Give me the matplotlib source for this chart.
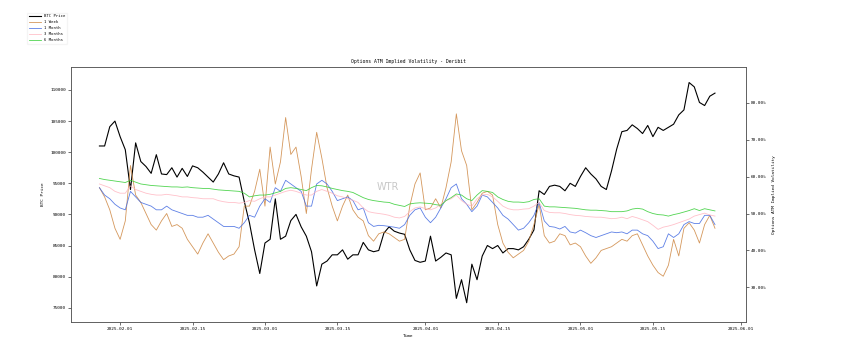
import matplotlib
matplotlib.use("Agg")
import matplotlib.pyplot as plt
import matplotlib.dates as mdates
import matplotlib.ticker as mticker
import pandas as pd

plt.rcParams['font.family'] = ['DejaVu Sans Mono', 'DejaVu Sans']

# daily samples, 2025-01-28 .. 2025-05-27
dates = pd.date_range("2025-01-28", periods=120, freq="D")

btc_price = [
    101000, 101000, 104100, 105000, 102500, 100400, 94000, 101500, 98500, 97700,
    96600, 99600, 96500, 96400, 97500, 96000, 97400, 96100, 97800, 97500,
    96800, 96000, 95200, 96500, 98300,
    96500, 96200, 96000, 92100, 88650, 84300, 80500, 85400, 86000, 92500,
    86000, 86500, 89000, 90000, 88000, 86500, 84000, 78500, 82000, 82500,
    83500, 83500, 84300, 82800, 83500,
    83500, 85500, 84300, 84000, 84200, 87000, 88000, 87300, 87000, 86800,
    84300, 82600, 82300, 82500, 86500, 82500, 83100, 83800, 83500, 76500,
    79500, 75800, 82000, 79500, 83300, 85000, 84500,
    85000, 83800, 84500, 84500, 84300, 84800, 86000, 87500, 93800, 93200,
    94500, 94700, 94500, 93800, 95000, 94500, 96100, 97500, 96500, 95700,
    94500, 94000, 97000, 100500, 103300,
    103500, 104400, 103800, 103000, 104300, 102500, 104000, 103500, 104000, 104500,
    106000, 106800, 111200, 110500, 108000, 107500, 109000, 109500,
]

iv_1w = [
    57, 54.5, 51, 46, 43, 48, 63, 55, 53, 50, 47, 45.5, 48, 50, 46.5, 47, 46, 43,
    41, 39, 42, 44.5, 42, 39.5, 37.5,
    38.5, 39, 41, 52, 52, 56, 62, 52, 68, 58, 64, 76, 66, 68, 60, 50, 62, 72, 65,
    57, 52, 48, 52, 55, 51,
    49, 48, 44, 42.5, 44.5, 45, 44.5, 43.5, 42.5, 43, 52, 58, 61, 51, 51.5, 54,
    51.5, 57, 64, 77, 67, 63, 51, 53, 55.5, 56, 55,
    47, 42, 39.5, 38, 39, 40, 42.5, 47, 52.5, 44, 42, 42.5, 44.5, 44, 41.5, 42,
    41, 38.5, 36.5, 38, 40, 40.5, 41, 42, 43,
    42.5, 44, 44.5, 41.5, 38.5, 36, 34, 33, 36, 43, 38.5, 46, 47.5, 45.5, 42, 47,
    49.5, 46,
]

iv_1m = [
    57, 55, 54, 52.5, 51.5, 51, 56, 54.5, 53, 52.5, 52, 51, 51, 52, 51, 50.5, 50,
    49.5, 49.5, 49, 49, 49.5, 48.5, 47.5, 46.5,
    46.5, 46.5, 46, 47.5, 49.5, 49, 52, 54, 53, 57, 56, 59, 58, 57, 56, 52, 52,
    58, 59, 58, 56, 53.5, 54, 54.5, 53.5,
    51, 51.5, 47.5, 46.5, 46.8, 46.7, 46.5, 46.3, 46, 47, 49.5, 51, 51.5, 49,
    47.5, 49, 51.5, 54, 57, 58, 54, 52.5, 50.5, 52, 55, 54.5, 53,
    51.5, 49.5, 48.5, 47, 45.5, 46, 47.5, 49.5, 53, 48, 46.5, 46.3, 45.8, 46.5,
    45, 44.7, 45.5, 44.8, 44, 43.5, 44, 44.5, 45, 44.8, 45,
    44.5, 45.5, 45.5, 44.5, 44, 42.5, 40.5, 41, 44.5, 43.5, 44.5, 47, 47.8, 47.3,
    47.3, 49.5, 49.5, 47,
]

iv_3m = [
    58, 57.5, 57, 56, 55.5, 55.5, 57.5, 56.5, 56, 55.5, 55.2, 55, 55, 55.2, 55,
    54.8, 54.5, 54.5, 54.3, 54.2, 54, 54, 54, 53.5, 53.2,
    53, 53, 52.8, 53, 53.5, 53.3, 54, 54.5, 54.5, 55, 55.5, 56, 56.3, 56, 55.5,
    55, 55, 56, 56.5, 56, 55.5, 54.8, 54.5, 54, 53.6,
    53, 51.5, 50.5, 50.2, 50, 49.8, 49.5, 49, 48.8, 49.2, 50.5, 51.5, 51.8, 51.3,
    51, 51.5, 52.5, 53.5, 54, 55, 53.5, 52.5, 52, 54, 55, 55.2, 54.5,
    53.3, 52, 51.3, 51, 51, 51.2, 51.3, 52, 53, 50.8, 50.3, 50.2, 50.2, 50, 49.7,
    49.5, 49.4, 49.2, 49.1, 49, 49, 48.8, 48.6, 48.7, 49,
    48.6, 49.2, 48.8, 48.3, 47.8, 46.8, 45.7, 46.3, 46.6, 47, 47.5, 48, 48.5,
    49.3, 49.7, 50.1, 49.6, 49.3,
]

iv_6m = [
    59.5, 59.2, 59, 58.8, 58.6, 58.4, 59, 58.5, 58, 57.8, 57.6, 57.5, 57.4, 57.3,
    57.2, 57.2, 57.1, 57.2, 57, 56.9, 56.8, 56.8, 56.6, 56.4, 56.3,
    56.2, 56.1, 56, 55.5, 54.5, 54.8, 55, 55, 55.2, 55.6, 56, 56.8, 57, 56.8,
    56.5, 56.2, 57, 57.6, 57.5, 57.2, 56.8, 56.5, 56.2, 56, 55.7,
    55, 54.3, 53.8, 53.5, 53.3, 53.1, 53, 52.5, 52.2, 51.9, 52.6, 52.8, 52.9,
    52.8, 52.7, 52.4, 52.2, 53.5, 54.3, 55.3, 55, 54, 53.5, 55, 56.2, 56, 55.7,
    54.5, 53.8, 53.3, 53.1, 53.1, 53, 53.2, 53.8, 54, 52, 51.8, 51.8, 51.7, 51.6,
    51.5, 51.4, 51.2, 51, 50.9, 50.9, 50.8, 50.7, 50.5, 50.5, 50.5,
    50.7, 51.2, 51.4, 51.2, 50.5, 50, 49.7, 49.6, 49.3, 49.7, 50, 50.4, 50.8,
    51.3, 50.8, 51.3, 51, 50.7,
]

tenors = ["1 Week", "1 Month", "3 Months", "6 Months"]
tenor_colors = ["peru", "royalblue", "lightpink", "limegreen"]

fs = 3.2

fig = plt.figure(figsize=(8.42, 3.52), dpi=100)
ax1 = fig.add_axes([0.0843, 0.0852, 0.8017, 0.7245])
ax2 = ax1.twinx()

l_btc, = ax1.plot(dates, btc_price, color="black", lw=0.8, label="BTC Price")
lines = [l_btc]
for name, col, vals in zip(tenors, tenor_colors, [iv_1w, iv_1m, iv_3m, iv_6m]):
    ln, = ax2.plot(dates, vals, color=col, lw=0.6, alpha=0.85, label=name)
    lines.append(ln)

ax1.set_xlim(pd.Timestamp("2025-01-22 12:00"), pd.Timestamp("2025-06-02"))
ax1.set_ylim(72700, 113700)
ax2.set_ylim(20.6, 89.7)

ax1.xaxis.set_major_locator(mdates.DayLocator(bymonthday=[1, 15]))
ax1.xaxis.set_major_formatter(mdates.DateFormatter("%Y-%m-%d"))
ax1.yaxis.set_major_locator(mticker.MultipleLocator(5000))
ax2.yaxis.set_major_locator(mticker.MultipleLocator(10))
ax2.yaxis.set_major_formatter(mticker.FuncFormatter(lambda v, p: "%.2f%%" % v))

for ax in (ax1, ax2):
    ax.tick_params(labelsize=fs, length=2, width=0.4, pad=1.5)
    for sp in ax.spines.values():
        sp.set_linewidth(0.5)
        sp.set_color("#555555")

ax1.set_xlabel("Time", fontsize=fs, labelpad=2)
ax1.set_ylabel("BTC Price", fontsize=fs, labelpad=4)
ax2.set_ylabel("Options ATM Implied Volatility", fontsize=fs, labelpad=4)
ax1.set_title("Options ATM Implied Volatility - Deribit", fontsize=3.4, pad=3)

ax1.text(0.47, 0.53, "WTR", transform=ax1.transAxes, fontsize=7,
         color="#c8c8c8", ha="center", va="center", family="DejaVu Sans")

fig.legend(handles=lines, loc="upper left", bbox_to_anchor=(0.03, 0.97),
           fontsize=2.8, handlelength=3, frameon=True, framealpha=0.6,
           edgecolor="#eeeeee", borderpad=0.5, labelspacing=0.5)

fig.savefig("out.png", dpi=100)
